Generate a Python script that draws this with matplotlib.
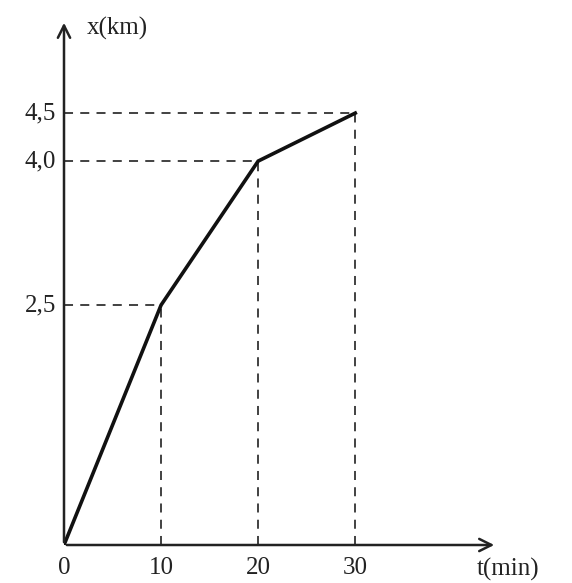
import matplotlib
matplotlib.use("Agg")
import matplotlib.pyplot as plt

t_min = [0, 10, 20, 30]
x_km = [0, 2.5, 4.0, 4.5]
x_ticks = [0, 10, 20, 30]
x_tick_labels = ["0", "10", "20", "30"]
y_ticks = [2.5, 4.0, 4.5]
y_tick_labels = ["2,5", "4,0", "4,5"]

plt.rcParams['font.family'] = ['Liberation Serif', 'DejaVu Serif']

fig = plt.figure(figsize=(5.72, 5.83), dpi=100)
fig.patch.set_facecolor('white')
ax = fig.add_axes([64/572, 38/583, (497-64)/572, (545-20)/583])
ax.set_xlim(0, 44.6)
ax.set_ylim(0, 5.47)
for s in ax.spines.values():
    s.set_visible(False)
ax.set_xticks([])
ax.set_yticks([])

# axes with arrows
ax.annotate("", xy=(1, 0), xytext=(0, 0), xycoords='axes fraction',
            arrowprops=dict(arrowstyle='->', lw=1.8, color='#222222', mutation_scale=22))
ax.annotate("", xy=(0, 1), xytext=(0, 0), xycoords='axes fraction',
            arrowprops=dict(arrowstyle='->', lw=1.8, color='#222222', mutation_scale=22))

# dashed guides
dash_kw = dict(color='#333333', lw=1.3, ls=(0, (5, 4)))
for tv, xv in zip(t_min[1:], x_km[1:]):
    ax.plot([0, tv], [xv, xv], **dash_kw)
    ax.plot([tv, tv], [0, xv], **dash_kw)

# main line
ax.plot(t_min, x_km, color='#111111', lw=2.6, solid_joinstyle='miter')

fs = 18
# tick labels
for tv, lab in zip(x_ticks, x_tick_labels):
    ax.text(tv, -0.13, lab, ha='center', va='top', fontsize=fs, color='#222222')
for yv, lab in zip(y_ticks, y_tick_labels):
    ax.text(-0.8, yv, lab, ha='right', va='center', fontsize=fs, color='#222222')

ax.text(42.5, -0.37, "t(min)", ha='left', va='bottom', fontsize=fs, color='#222222', clip_on=False)
ax.text(2.3, 5.38, "x(km)", ha='left', va='center', fontsize=fs, color='#222222', clip_on=False)

fig.savefig("out.png", dpi=100, facecolor='white')
